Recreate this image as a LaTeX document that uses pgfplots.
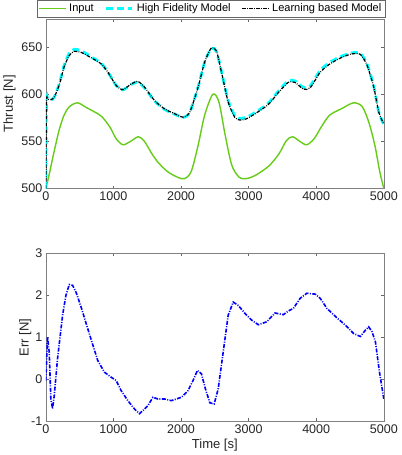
\documentclass[border=0pt]{standalone}
\usepackage{fontspec}
\setmainfont{Liberation Sans}
\usepackage{pgfplots}
\pgfplotsset{compat=1.18}
\definecolor{ingreen}{rgb}{0.40,0.80,0.10}
\definecolor{hfcyan}{rgb}{0.0,1.0,1.0}
\definecolor{axgray}{rgb}{0.15,0.15,0.15}

\pgfplotsset{
  matlab/.style={
    scale only axis,
    width=337pt,
    xmin=0, xmax=5000,
    xtick={0,1000,...,5000},
    tick align=inside,
    major tick length=3pt,
    axis line style={black!50, line width=0.5pt},
    every tick/.style={black!60, line width=0.5pt},
    tick label style={font=\fontsize{12.5}{14}\selectfont, text=axgray},
    label style={font=\fontsize{13}{15}\selectfont, text=axgray},
    /pgf/number format/assume math mode=true,
    /pgf/number format/1000 sep={},
    scaled ticks=false,
  }
}

\begin{document}
\begin{tikzpicture}
\begin{axis}[
  matlab,
  name=top,
  at={(0,0)}, anchor=north west,
  height=169pt,
  ymin=500, ymax=680,
  ytick={500,550,600,650},
  ylabel={Thrust [N]},
  ylabel style={yshift=-1pt},
  legend columns=3,
  legend style={
    at={(0,1.012)}, anchor=south west, xshift=-9pt,
    font=\fontsize{11}{13}\selectfont,
    draw=black!60, line width=0.5pt,
    inner sep=1.5pt, row sep=0pt,
    /tikz/every odd column/.append style={column sep=1pt},
    /tikz/every even column/.append style={column sep=9pt},
  },
  legend image code/.code={
    \draw[#1] (0cm,0cm) -- (0.92cm,0cm);
  },
]
\addplot[ingreen, line width=1.4pt, smooth] coordinates {
  (0,500) (50,515) (100,532) (150,548) (200,563) (270,578) (350,587)
  (470,591) (600,586) (817,577) (950,565) (1040,553) (1140,546.5)
  (1250,550) (1370,555) (1460,550) (1560,538) (1658,528) (1800,518)
  (1950,512) (2050,510.5) (2150,518) (2250,545) (2350,578) (2470,600)
  (2560,592) (2650,558) (2750,525) (2860,512) (2960,510.5) (3100,514)
  (3300,524) (3450,537) (3560,551) (3650,555) (3760,550) (3860,546.5)
  (3970,553) (4080,566) (4200,578) (4380,585) (4550,591) (4680,587)
  (4780,570) (4870,545) (4940,518) (5000,500)
};
\addlegendentry{Input}
\addplot[hfcyan, line width=2.8pt, dash pattern=on 7pt off 4pt, smooth, tension=0.4] coordinates {
  (0,500) (10,593) (25,596) (74,594) (124,597) (198,611) (272,631)
  (347,643.6) (421,647.9) (520,646.4) (668,640) (817,633) (916,624)
  (1040,609.5) (1139,604.8) (1262,610.5) (1361,613) (1460,607)
  (1609,593) (1757,584) (1906,579) (2030,575.4) (2129,580.8)
  (2252,607.7) (2351,634.6) (2450,649) (2525,645.4) (2599,623.9)
  (2698,593.3) (2797,577.2) (2871,574.6) (2970,575.7) (3119,581.8)
  (3292,590.7) (3441,603.6) (3589,614.5) (3688,614.3) (3812,607.2)
  (3911,609) (4059,625.4) (4208,634.3) (4381,640.7) (4530,644.1)
  (4653,643.5) (4752,632.2) (4851,608.8) (4926,581.2) (5000,568)
};
\addlegendentry{High Fidelity Model}
\addplot[black, line width=1.2pt, dash pattern=on 3.5pt off 1.3pt on 0.8pt off 1.3pt, smooth, tension=0.4] coordinates {
  (0,500) (10,592) (25,595) (74,594.4) (124,597) (198,610) (272,629.5)
  (347,641.4) (421,645.7) (520,644.7) (668,639) (817,632.5) (916,623.8)
  (1040,609.5) (1139,605) (1262,611) (1361,613.8) (1460,607.7)
  (1609,593.4) (1757,584.5) (1906,579.5) (2030,575.8) (2129,581)
  (2252,607.5) (2351,634.5) (2450,649.5) (2525,646) (2599,623.5)
  (2698,591.8) (2797,575.4) (2871,572.8) (2970,574.1) (3119,580.5)
  (3292,589.3) (3441,602) (3589,612.9) (3688,612.6) (3812,605.5)
  (3911,607) (4059,623.5) (4208,632.6) (4381,639.4) (4530,643)
  (4653,642.5) (4752,631) (4851,607.9) (4926,581) (5000,568.5)
};
\addlegendentry{Learning based Model}
\end{axis}

\begin{axis}[
  matlab,
  at={(0,-233.7pt)}, anchor=north west,
  height=167.3pt,
  ymin=-1, ymax=3,
  ytick={-1,0,1,2,3},
  ylabel={Err [N]},
  ylabel style={yshift=-7pt},
  xlabel={Time [s]},
  xlabel style={yshift=1pt},
]
\addplot[blue, line width=1.6pt, dash pattern=on 4pt off 1.4pt on 1pt off 1.4pt] coordinates {
  (0,-0.03) (25,1.0) (50,0.65) (74,-0.47) (99,-0.7) (124,-0.4)
  (173,0.49) (248,1.53) (297,2.0) (347,2.26) (396,2.24) (446,2.08)
  (520,1.73) (619,1.21) (767,0.45) (866,0.17) (965,0.05) (1040,-0.03)
  (1114,-0.27) (1213,-0.51) (1312,-0.71) (1386,-0.82) (1460,-0.71)
  (1510,-0.63) (1584,-0.43) (1658,-0.47) (1757,-0.47) (1856,-0.51)
  (2005,-0.43) (2104,-0.27) (2178,-0.03) (2243,0.21) (2302,0.13)
  (2361,-0.23) (2426,-0.56) (2490,-0.59) (2550,-0.23) (2624,0.65)
  (2698,1.53) (2772,1.84) (2847,1.76) (2946,1.57) (3045,1.41)
  (3144,1.3) (3267,1.37) (3391,1.58) (3515,1.54) (3589,1.63)
  (3663,1.69) (3762,1.93) (3861,2.05) (3985,2.03) (4059,1.93)
  (4158,1.69) (4282,1.5) (4431,1.29) (4554,1.09) (4653,1.02)
  (4728,1.17) (4777,1.25) (4827,1.13) (4876,0.89) (4936,0.17)
  (5000,-0.47)
};
\end{axis}
\end{tikzpicture}
\end{document}
